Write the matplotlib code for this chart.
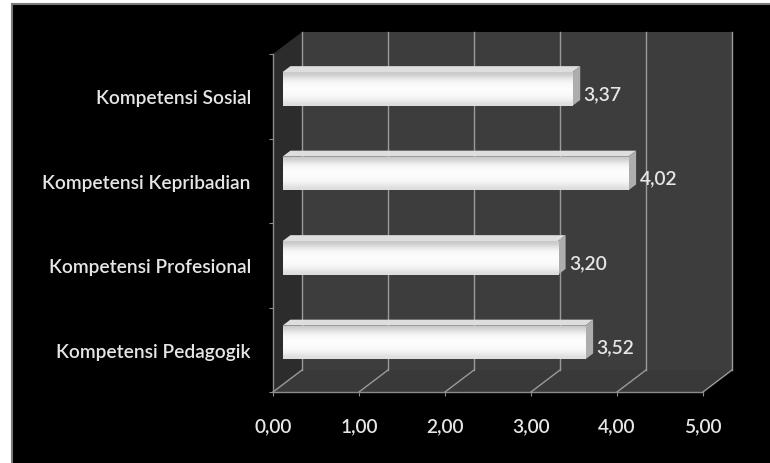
import numpy as np
import matplotlib.pyplot as plt
from matplotlib.patches import Polygon, Rectangle
from matplotlib.lines import Line2D

kategori = ['Kompetensi Pedagogik', 'Kompetensi Profesional',
            'Kompetensi Kepribadian', 'Kompetensi Sosial']
nilai = [3.52, 3.20, 4.02, 3.37]
label_nilai = ['3,52', '3,20', '4,02', '3,37']
xticks = [0, 1, 2, 3, 4, 5]
xtick_labels = ['0,00', '1,00', '2,00', '3,00', '4,00', '5,00']

plt.rcParams['font.family'] = ['Lato', 'DejaVu Sans']
plt.rcParams['font.weight'] = 'semibold'
teks = '#e6e6e6'
garis = '#9a9a9a'
fs = 13.8

W, H = 770, 464
fig = plt.figure(figsize=(W / 100, H / 100), dpi=100, facecolor='black')

# front plane of the chart box (pixels)
x0, x1 = 273, 703
yb, yt = 393, 55
ax = fig.add_axes([x0 / W, 1 - yb / H, (x1 - x0) / W, (yb - yt) / H])
ax.set_xlim(0, 5)
ax.set_ylim(-0.5, 3.5)
ax.patch.set_visible(False)

# box depth in data units
px_x = (x1 - x0) / 5
px_y = (yb - yt) / 4
DX, DY = 29 / px_x, 22 / px_y

# walls
ax.add_patch(Rectangle((DX, -0.5 + DY), 5, 4, facecolor='#3d3d3d',
                       edgecolor='none', clip_on=False, zorder=0))
ax.add_patch(Polygon([(0, -0.5), (DX, -0.5 + DY), (DX, 3.5 + DY), (0, 3.5)],
                     facecolor='#2c2c2c', edgecolor='none', clip_on=False, zorder=0))
ax.add_patch(Polygon([(0, -0.5), (5, -0.5), (5 + DX, -0.5 + DY), (DX, -0.5 + DY)],
                     facecolor='#393939', edgecolor='none', clip_on=False, zorder=0))

# gridlines on back wall and floor
for t in xticks:
    ax.plot([t + DX, t + DX], [-0.5 + DY, 3.5 + DY], color=garis, lw=1,
            clip_on=False, zorder=1)
    ax.plot([t, t + DX], [-0.5, -0.5 + DY], color=garis, lw=1,
            clip_on=False, zorder=1)

# bars: front face at depth d0, bar thickness dd
d0, dd = 0.33, 0.27
tinggi = 0.4
ypos = np.arange(len(kategori))
kiri = d0 * DX
yc = ypos + d0 * DY
gradasi = np.array([0.78, 0.93, 0.98, 0.99, 0.98, 0.96, 0.86]).reshape(-1, 1)
for y, v in zip(yc, nilai):
    atas = y + tinggi / 2
    bawah = y - tinggi / 2
    ax.add_patch(Polygon([(kiri, atas), (kiri + v, atas),
                          (kiri + v + dd * DX, atas + dd * DY),
                          (kiri + dd * DX, atas + dd * DY)],
                         facecolor='#dedede', edgecolor='none', clip_on=False, zorder=2))
    ax.add_patch(Polygon([(kiri + v, bawah), (kiri + v, atas),
                          (kiri + v + dd * DX, atas + dd * DY),
                          (kiri + v + dd * DX, bawah + dd * DY)],
                         facecolor='#adadad', edgecolor='none', clip_on=False, zorder=2))
bars = ax.barh(yc, nilai, left=kiri, height=tinggi, color='#f8f8f8',
               edgecolor='none', zorder=3, clip_on=False)
# soft vertical shading on each front face
for b in bars:
    im = ax.imshow(gradasi, cmap='gray', vmin=0, vmax=1, aspect='auto',
                   extent=[b.get_x(), b.get_x() + b.get_width(),
                           b.get_y(), b.get_y() + b.get_height()],
                   interpolation='bicubic', zorder=3.5)
    im.set_clip_path(b)
ax.set_xlim(0, 5)
ax.set_ylim(-0.5, 3.5)

for y, v, s in zip(ypos, nilai, label_nilai):
    ax.annotate(s, xy=(v, y), xytext=(15, 2), textcoords='offset points',
                ha='left', va='center', color=teks, fontsize=fs, zorder=5)

# axes
for k in ['top', 'right']:
    ax.spines[k].set_visible(False)
for k in ['left', 'bottom']:
    ax.spines[k].set_color('#8c8c8c')
    ax.spines[k].set_linewidth(1)
    ax.spines[k].set_zorder(4)

ax.set_xticks(xticks)
ax.set_xticklabels(xtick_labels)
ax.tick_params(axis='x', colors='#8c8c8c', labelcolor=teks, length=3,
               pad=15, labelsize=fs)
ax.set_yticks([-0.5, 0.5, 1.5, 2.5, 3.5])
ax.set_yticklabels([])
ax.set_yticks(ypos, minor=True)
ax.set_yticklabels(kategori, minor=True)
ax.tick_params(axis='y', which='major', colors='#8c8c8c', length=3)
ax.tick_params(axis='y', which='minor', length=0, pad=16,
               labelcolor=teks, labelsize=fs)

# white margin and grey frame on the left and top
fig.add_artist(Rectangle((0, 0), 12 / W, 1, transform=fig.transFigure,
                         facecolor='white', edgecolor='none'))
fig.add_artist(Rectangle((0, 1 - 4 / H), 1, 4 / H, transform=fig.transFigure,
                         facecolor='white', edgecolor='none'))
fig.add_artist(Line2D([12.5 / W, 12.5 / W], [0, 1 - 4.5 / H],
                      transform=fig.transFigure, color='#7a7a7a', lw=1.5))
fig.add_artist(Line2D([12.5 / W, 1], [1 - 4.5 / H, 1 - 4.5 / H],
                      transform=fig.transFigure, color='#7a7a7a', lw=1.5))

fig.savefig('out.png', dpi=100, facecolor='black')
